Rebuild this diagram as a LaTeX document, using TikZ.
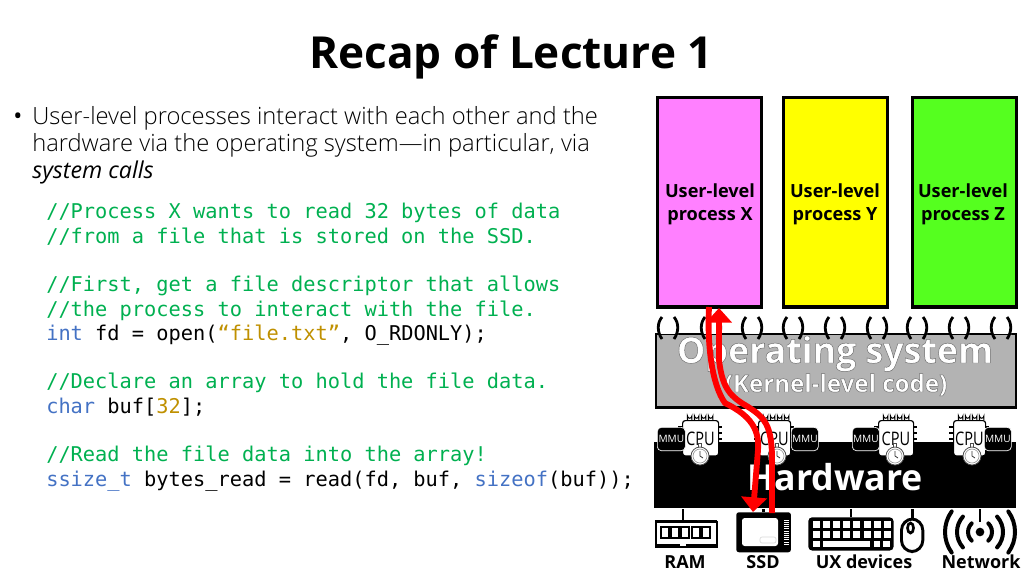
\documentclass[tikz,border=0pt]{standalone}
\usepackage{fontspec}
\setmainfont{Open Sans}
\setmonofont{DejaVu Sans Mono}
\newfontfamily\lightf{Open Sans Light}
\usetikzlibrary{arrows.meta}
\definecolor{cmt}{HTML}{00B050}
\definecolor{kw}{HTML}{4472C4}
\definecolor{strc}{HTML}{BF9000}
\definecolor{osgray}{HTML}{B3B3B3}
\definecolor{pink}{HTML}{FF80FF}
\definecolor{yel}{HTML}{FFFF00}
\definecolor{grn}{HTML}{55FF1F}
\definecolor{arrowred}{HTML}{FF0000}
\newcommand\Cm[1]{\textcolor{cmt}{#1}}
\newcommand\Kw[1]{\textcolor{kw}{#1}}
\newcommand\St[1]{\textcolor{strc}{#1}}
\newcommand\Halo[1]{\special{pdf:code 2 Tr 0.35 w 0.42 0.42 0.42 RG}#1\special{pdf:code 0 Tr}}
\tikzset{
 title/.style={font=\fontsize{33.1}{36}\selectfont\bfseries,anchor=base,inner sep=0},
 body/.style={font=\fontsize{17.8}{20}\lightf,anchor=base west,inner sep=0},
 codeline/.style={font=\fontsize{15.25}{18}\ttfamily,anchor=base west,inner sep=0},
 proc/.style={draw=black,line width=2.4pt,minimum width=78pt,anchor=north west},
 proclabel/.style={font=\fontsize{13.6}{17.3}\selectfont\bfseries,align=center,inner sep=0},
 devlabel/.style={font=\fontsize{13.5}{16}\selectfont\bfseries,anchor=base,inner sep=0},
 stem/.style={line width=2.2pt,draw=black},
 redpath/.style={line width=4.4pt,draw=arrowred,line cap=butt,-{Triangle[width=19pt,length=11pt]}},
 mmu/.style={fill=black,draw=white,line width=.5pt,rounded corners=3pt,text=white,inner sep=0,font=\fontsize{7.6}{9}\selectfont},
}
\newcommand\cpuchip[6]{% name, left, right, mmu left, mmu right, watch x
 \foreach \i in {0,1,2,3}{
  \draw[line width=.8pt,fill=white] ({#2+5.5+\i*7},420) -- ({#2+5.5+\i*7},416) arc (180:0:2.2) -- ({#2+9.9+\i*7},420);
 }
 \foreach \yy in {427,433,439,445}{
  \draw[line width=1pt] ({#3},\yy) -- ({#3+4},\yy);
  \draw[line width=1pt] ({#2-4},\yy) -- ({#2},\yy);
 }
 \node[draw=black,fill=white,line width=.9pt,rounded corners=2pt,inner sep=0,anchor=north west,minimum width={(#3-#2)*.75pt},minimum height=26.5pt] (#1chip) at (#2,420) {};
 \node[inner sep=0,font=\fontsize{14}{15}\selectfont,anchor=base] (#1lab) at ({(#2+#3)/2+(#6-(#2+#3)/2)*0+.5},445) {\scalebox{.78}[1]{CPU}};
 \node[mmu,anchor=north west,minimum width={(#5-#4)*.75pt},minimum height=17.5pt] (#1mmu) at (#4,427) {MMU};
 \draw[black!70,fill=white,line width=.6pt] ({#6-1.6},443) rectangle ({#6+1.6},447);
 \draw[black!70,fill=white,line width=.6pt] (#6,456) circle (9);
 \draw[black!40,line width=.5pt] (#6,456) circle (7);
 \draw[black!80,line width=.6pt] (#6,451) -- (#6,456) -- ({#6+3},458);
}
\begin{document}
\begin{tikzpicture}[x=.75pt,y=-.75pt]
\useasboundingbox (0,0) rectangle (1024,576);
\node[title] (ttl) at (511,68) {Recap of Lecture 1};
% body text
\node[body,font=\fontsize{18}{20}\selectfont] (bul) at (13,124) {•};
\node[body] (b1) at (32,124) {User-level processes interact with each other and the};
\node[body] (b2) at (32,151) {hardware via the operating system—in particular, via};
\node[body,font=\fontsize{17.4}{20}\selectfont\itshape] (b3) at (32,178) {system calls};
% code
\node[codeline] (c1) at (46,218) {\Cm{//Process X wants to read 32 bytes of data}};
\node[codeline] (c2) at (46,243) {\Cm{//from a file that is stored on the SSD.}};
\node[codeline] (c3) at (46,291) {\Cm{//First, get a file descriptor that allows}};
\node[codeline] (c4) at (46,316) {\Cm{//the process to interact with the file.}};
\node[codeline] (c5) at (46,340) {\Kw{int} fd = open(\St{“file.txt”}, O\_RDONLY);};
\node[codeline] (c6) at (46,388) {\Cm{//Declare an array to hold the file data.}};
\node[codeline] (c7) at (46,413) {\Kw{char} buf[\St{32}];};
\node[codeline] (c8) at (46,461) {\Cm{//Read the file data into the array!}};
\node[codeline] (c9) at (46,486) {\Kw{ssize\_t} bytes\_read = read(fd, buf, \Kw{sizeof}(buf));};
% processes
\node[proc,fill=pink,minimum height=157pt] (px) at (656,96) {};
\node[proc,fill=yel,minimum height=157pt] (py) at (782,96) {};
\node[proc,fill=grn,minimum height=157pt] (pz) at (910.5,96) {};
\node[proclabel] (lx) at (710,204) {User-level\\process X};
\node[proclabel] (ly) at (835,204) {User-level\\process Y};
\node[proclabel] (lz) at (963,204) {User-level\\process Z};
% operating system
\node[draw=black,fill=osgray,line width=2.2pt,anchor=north west,minimum width=270pt,minimum height=55pt,inner sep=0] (os) at (654.5,332.5) {};
\foreach \xx in {668,711,752,793,835,877,917,959,1001}{
 \fill[white] ({\xx-10},315) rectangle ({\xx+10},334);
 \fill[white] ({\xx-10},330) -- ({\xx-10},336) arc (180:360:10 and 5) -- ({\xx+10},330) -- cycle;
 \draw[line width=2.1pt] ({\xx-6},317) .. controls ({\xx-11},323) and ({\xx-11},332) .. ({\xx-6},339);
 \draw[line width=2.1pt] ({\xx+6},317) .. controls ({\xx+11},323) and ({\xx+11},332) .. ({\xx+6},339);
}
\node[inner sep=0,anchor=base,text=white,font=\fontsize{26.8}{28}\selectfont\bfseries] (ost) at (835,363) {\Halo{Operating system}};
\node[inner sep=0,anchor=base,text=white,font=\fontsize{18.1}{20}\selectfont\bfseries] (ost2) at (836,392) {\Halo{(Kernel-level code)}};
% hardware
\node[fill=black,anchor=north west,minimum width=271pt,minimum height=49.5pt,inner sep=0] (hw) at (654,442) {};
\cpuchip{ca}{682}{718}{657}{685}{700}
\cpuchip{cb}{758}{790}{791}{818}{777}
\cpuchip{cc}{878}{913}{852}{879}{895}
\cpuchip{cd}{953}{985}{984}{1011}{972}
\node[inner sep=0,anchor=base,text=white,font=\fontsize{26.8}{28}\selectfont\bfseries] (hwt) at (835,490) {Hardware};
% RAM
\coordinate (ramTop) at (683,520);
\node[draw=black,fill=white,line width=1.5pt,anchor=north west,minimum width=45.5pt,minimum height=19pt,inner sep=0] (ram) at (655,521) {};
\fill[black] (655,520) rectangle (717,523);
\fill[black] (655,544) rectangle (680,547);
\fill[black] (686,544) rectangle (717,547);
\foreach \i in {0,1,2,3,4}{\draw[line width=1.5pt] ({661+\i*10.2},527) rectangle ({669+\i*10.2},538);}
\draw[stem] (ramTop) -- (ramTop |- hw.south);
% SSD
\node[fill=black,rounded corners=2pt,anchor=north west,minimum width=41pt,minimum height=30pt,inner sep=0] (ssd) at (736,512) {};
\fill[white,rounded corners=2pt] (742,518) rectangle (778,546);
\draw[black!15,rounded corners=1.5pt,line width=.5pt] (760,537) rectangle (776,543);
\foreach \i in {0,...,11}{\draw[white,line width=.6pt] (784,{520+\i*2.2}) -- (789,{520+\i*2.2});}
\draw[stem] (ssd.north) -- (ssd.north |- hw.south);
% keyboard
\coordinate (kbdTop) at (851,517);
\node[fill=black,rounded corners=3pt,anchor=north west,minimum width=64pt,minimum height=25pt,inner sep=0] (kbd) at (808,517) {};
\foreach \r in {0,1}{\foreach \c in {0,...,7}{\fill[white] ({812.5+\c*10.2},{521+\r*10}) rectangle ({819.5+\c*10.2},{528+\r*10});}}
\fill[white] (812.5,541) rectangle (819.5,547);
\fill[white] (823,541) rectangle (870,547);
\fill[white] (873.5,541) rectangle (880,547);
\fill[white] (883,541) rectangle (890,547);
\draw[stem] (kbdTop) -- (kbdTop |- hw.south);
% mouse
\node[draw=black,fill=white,line width=2.2pt,rounded corners=8.5pt,anchor=north west,minimum width=16pt,minimum height=24.5pt,inner sep=0] (mouse) at (900,517.5) {};
\draw[stem] (mouse.north) -- (mouse.north |- hw.south);
\draw[black,fill=white,line width=2pt] (910.5,528) ellipse (3 and 5);
% network
\node[circle,fill=black,minimum size=6.5pt,inner sep=0] (net) at (980,532) {};
\foreach \rr/\aa in {12/46,23/42,35/36}{
 \draw[line width=3pt,line cap=round] (980,532) ++(-\aa:\rr) arc (-\aa:\aa:\rr);
 \draw[line width=3pt,line cap=round] (980,532) ++({180-\aa}:\rr) arc ({180-\aa}:{180+\aa}:\rr);
}
\coordinate (netTop) at (980,522);
\draw[stem] (netTop) -- (netTop |- hw.south);
% labels
\node[devlabel] (lram) at (685,568) {RAM};
\node[devlabel] (lssd) at (763,568) {SSD};
\node[devlabel] (lux) at (864,568) {UX devices};
\node[devlabel] (lnet) at (981,568) {Network};
% red arrows
\coordinate (upS) at (772,513);
\coordinate (upE) at (719,308);
\coordinate (dnS) at (709,307);
\coordinate (dnE) at (753,512);
\draw[redpath] (upS) -- (772,460) .. controls (772,425) and (765,417) .. (745,405)
  .. controls (728,395) and (722,385) .. (719,360) -- (upE);
\draw[redpath] (dnS) .. controls (707,345) and (712,385) .. (725,403)
  .. controls (745,413) and (760,425) .. (758,450) -- (dnE);
\end{tikzpicture}
\end{document}
